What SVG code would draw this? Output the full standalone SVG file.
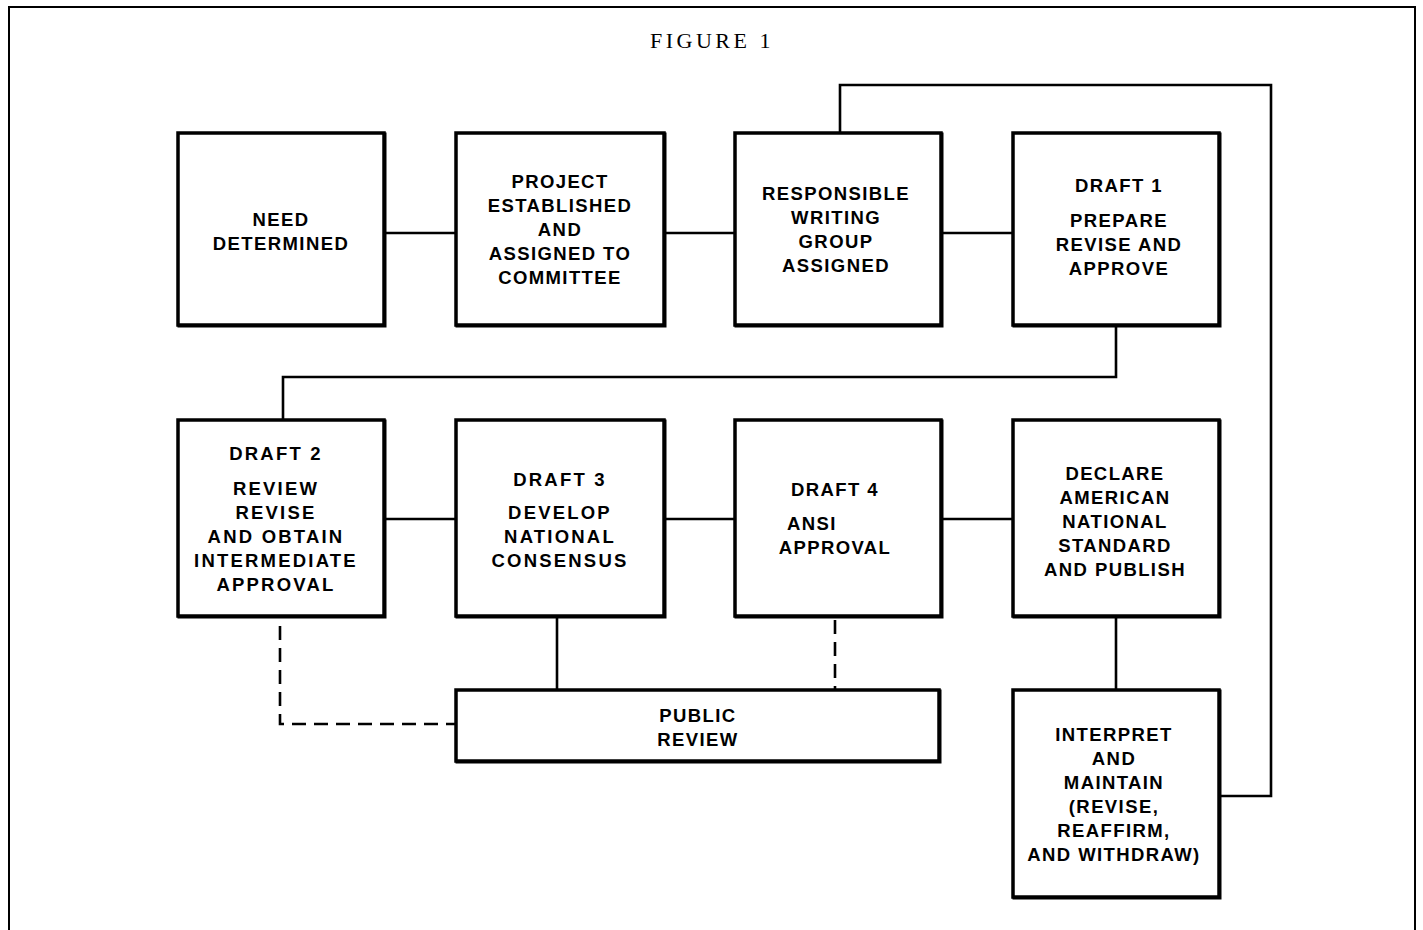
<svg xmlns="http://www.w3.org/2000/svg" width="1423" height="930" viewBox="0 0 1423 930">
<style>
.box{fill:#fff;stroke:#000;stroke-width:3.5}
.sh{fill:none;stroke:#000;stroke-width:3;stroke-linecap:square}
.t{font-family:"Liberation Sans",Arial,sans-serif;font-weight:bold;font-size:18.5px;letter-spacing:1.4px;text-anchor:middle;fill:#000}
.w{letter-spacing:2.2px}
.c{fill:none;stroke:#000;stroke-width:2.6}
.d{fill:none;stroke:#000;stroke-width:2.6;stroke-dasharray:14 8}
</style>
<rect width="1423" height="930" fill="#fff"/>
<path d="M9,935 V7 H1415 V935" fill="none" stroke="#000" stroke-width="2"/>
<text x="712" y="48" font-family="Liberation Serif,serif" font-size="22" letter-spacing="3.5" text-anchor="middle">FIGURE 1</text>
<g id="connectors">
<line class="c" x1="384" y1="233" x2="456" y2="233"/>
<line class="c" x1="665" y1="233" x2="735" y2="233"/>
<line class="c" x1="942" y1="233" x2="1013" y2="233"/>
<polyline class="c" points="1116,326 1116,377 283,377 283,420"/>
<line class="c" x1="384" y1="519" x2="456" y2="519"/>
<line class="c" x1="665" y1="519" x2="735" y2="519"/>
<line class="c" x1="942" y1="519" x2="1013" y2="519"/>
<line class="c" x1="557" y1="617" x2="557" y2="690"/>
<line class="d" x1="835" y1="620" x2="835" y2="690"/>
<polyline class="d" points="280,626 280,724 456,724"/>
<line class="c" x1="1116" y1="617" x2="1116" y2="690"/>
<polyline class="c" points="840,133 840,85 1271,85 1271,796 1220,796"/>
</g>
<g id="n1"><rect class="box" x="178" y="133" width="206" height="192"/><polyline class="sh" points="385,134 385,326 179,326"/>
<text class="t" x="281" y="226">NEED</text><text class="t" x="281" y="250">DETERMINED</text></g>
<g id="n2"><rect class="box" x="456" y="133" width="208" height="192"/><polyline class="sh" points="665,134 665,326 457,326"/>
<text class="t" x="560" y="188">PROJECT</text><text class="t" x="560" y="212">ESTABLISHED</text><text class="t" x="560" y="236">AND</text><text class="t" x="560" y="260">ASSIGNED TO</text><text class="t" x="560" y="284">COMMITTEE</text></g>
<g id="n3"><rect class="box" x="735" y="133" width="206" height="192"/><polyline class="sh" points="942,134 942,326 736,326"/>
<text class="t" x="836" y="200">RESPONSIBLE</text><text class="t" x="836" y="224">WRITING</text><text class="t" x="836" y="248">GROUP</text><text class="t" x="836" y="272">ASSIGNED</text></g>
<g id="n4"><rect class="box" x="1013" y="133" width="206" height="192"/><polyline class="sh" points="1220,134 1220,326 1014,326"/>
<text class="t" x="1119" y="192">DRAFT 1</text><text class="t" x="1119" y="227">PREPARE</text><text class="t" x="1119" y="251">REVISE AND</text><text class="t" x="1119" y="275">APPROVE</text></g>
<g id="n5"><rect class="box" x="178" y="420" width="206" height="196"/><polyline class="sh" points="385,421 385,617 179,617"/>
<text class="t w" x="276" y="460">DRAFT 2</text><text class="t w" x="276" y="495">REVIEW</text><text class="t w" x="276" y="519">REVISE</text><text class="t w" x="276" y="543">AND OBTAIN</text><text class="t w" x="276" y="567">INTERMEDIATE</text><text class="t w" x="276" y="591">APPROVAL</text></g>
<g id="n6"><rect class="box" x="456" y="420" width="208" height="196"/><polyline class="sh" points="665,421 665,617 457,617"/>
<text class="t w" x="560" y="486">DRAFT 3</text><text class="t w" x="560" y="519">DEVELOP</text><text class="t w" x="560" y="543">NATIONAL</text><text class="t w" x="560" y="567">CONSENSUS</text></g>
<g id="n7"><rect class="box" x="735" y="420" width="206" height="196"/><polyline class="sh" points="942,421 942,617 736,617"/>
<text class="t" x="835" y="496">DRAFT 4</text><text class="t" x="812" y="530">ANSI</text><text class="t" x="835" y="554">APPROVAL</text></g>
<g id="n8"><rect class="box" x="1013" y="420" width="206" height="196"/><polyline class="sh" points="1220,421 1220,617 1014,617"/>
<text class="t" x="1115" y="480">DECLARE</text><text class="t" x="1115" y="504">AMERICAN</text><text class="t" x="1115" y="528">NATIONAL</text><text class="t" x="1115" y="552">STANDARD</text><text class="t" x="1115" y="576">AND PUBLISH</text></g>
<g id="n9"><rect class="box" x="456" y="690" width="483" height="71"/><polyline class="sh" points="940,691 940,762 457,762"/>
<text class="t" x="698" y="722">PUBLIC</text><text class="t" x="698" y="746">REVIEW</text></g>
<g id="n10"><rect class="box" x="1013" y="690" width="206" height="207"/><polyline class="sh" points="1220,691 1220,898 1014,898"/>
<text class="t" x="1114" y="741">INTERPRET</text><text class="t" x="1114" y="765">AND</text><text class="t" x="1114" y="789">MAINTAIN</text><text class="t" x="1114" y="813">(REVISE,</text><text class="t" x="1114" y="837">REAFFIRM,</text><text class="t" x="1114" y="861">AND WITHDRAW)</text></g>
</svg>
